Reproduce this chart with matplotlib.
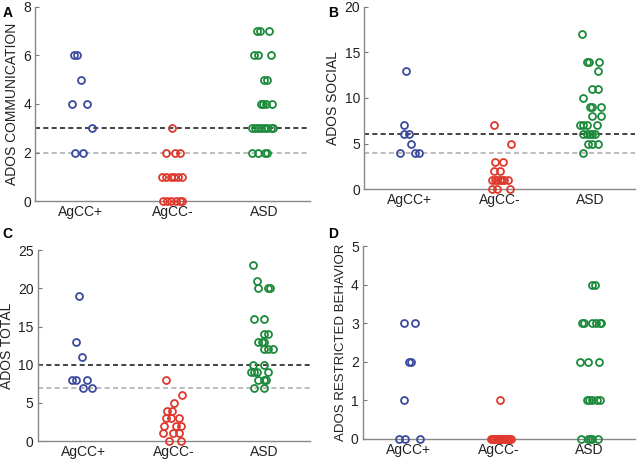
import matplotlib
matplotlib.use('Agg')
import matplotlib.pyplot as plt

plt.rcParams['font.family'] = ['Liberation Sans', 'DejaVu Sans']

groups = ['AgCC+', 'AgCC-', 'ASD']
colors = ['#3c4a9e', '#e0382c', '#1b8a3a']

# panel A - communication (x = jittered position, y = score)
a_x = [
    [0.92, 0.96, 1.00, 0.90, 1.07, 1.12, 0.93, 1.02],
    [2.00, 1.93, 2.03, 2.08, 1.89, 1.93, 1.98, 2.02, 2.06, 2.10, 1.90, 1.94, 1.98, 2.04, 2.08, 2.10],
    [2.92, 2.96, 3.05, 2.89, 2.93, 3.08, 3.00, 3.03, 2.97, 2.99, 3.02, 3.09,
     2.87, 2.90, 2.93, 2.97, 3.00, 3.03, 3.08, 3.10, 2.87, 2.93, 3.01, 3.03],
]
a_y = [
    [6, 6, 5, 4, 4, 3, 2, 2],
    [3, 2, 2, 2, 1, 1, 1, 1, 1, 1, 0, 0, 0, 0, 0, 0],
    [7, 7, 7, 6, 6, 6, 5, 5, 4, 4, 4, 4, 3, 3, 3, 3, 3, 3, 3, 3, 2, 2, 2, 2],
]

# panel B - social
b_x = [
    [0.96, 0.94, 0.94, 1.00, 1.02, 0.90, 1.06, 1.11],
    [1.94, 2.13, 1.95, 2.04, 1.94, 2.00, 1.92, 1.95, 1.97, 2.00, 2.03, 2.05, 2.09, 1.92, 1.97, 2.12],
    [2.91, 2.97, 2.99, 3.10, 3.09, 3.03, 3.09, 2.92, 3.00, 3.03, 3.13, 3.03, 3.13,
     2.89, 2.92, 2.97, 3.08, 2.92, 2.97, 3.00, 3.03, 3.06, 2.98, 3.03, 3.09, 2.93],
]
b_y = [
    [13, 7, 6, 6, 5, 4, 4, 4],
    [7, 5, 3, 3, 2, 2, 1, 1, 1, 1, 1, 1, 1, 0, 0, 0],
    [17, 14, 14, 14, 13, 11, 11, 10, 9, 9, 9, 8, 8, 7, 7, 7, 7, 6, 6, 6, 6, 6, 5, 5, 5, 4],
]

# panel C - total
c_x = [
    [0.95, 0.92, 0.99, 0.88, 0.92, 1.04, 1.00, 1.10],
    [1.91, 2.09, 2.00, 1.92, 1.98, 1.91, 1.97, 2.06, 1.89, 2.02, 2.08, 1.88, 1.99, 2.06, 1.95, 2.08],
    [2.87, 2.92, 2.93, 3.04, 3.06, 2.88, 2.99, 3.00, 3.04, 2.93, 2.97, 2.99, 3.00, 3.04, 3.09,
     2.87, 2.99, 2.85, 2.88, 2.92, 3.04, 2.93, 2.99, 3.02, 2.89, 3.00],
]
c_y = [
    [19, 13, 11, 8, 8, 8, 7, 7],
    [8, 6, 5, 4, 4, 3, 3, 3, 2, 2, 2, 1, 1, 1, 0, 0],
    [23, 21, 20, 20, 20, 16, 16, 14, 14, 13, 13, 13, 12, 12, 12, 10, 10, 9, 9, 9, 9, 8, 8, 8, 7, 7],
]

# panel D - restricted behavior
d_x = [
    [0.95, 1.08, 1.01, 1.03, 0.95, 0.90, 0.97, 1.13],
    [2.01, 1.91, 1.93, 1.95, 1.97, 1.99, 2.01, 2.03, 2.05, 2.07, 2.09, 2.11, 2.13, 1.94, 2.02, 2.10],
    [3.03, 3.06, 2.92, 2.94, 3.03, 3.07, 3.11, 3.13, 2.89, 2.98, 3.10,
     2.97, 2.99, 3.03, 3.08, 3.12, 2.91, 2.98, 3.01, 3.03, 3.09],
]
d_y = [
    [3, 3, 2, 2, 1, 0, 0, 0],
    [1, 0, 0, 0, 0, 0, 0, 0, 0, 0, 0, 0, 0, 0, 0, 0],
    [4, 4, 3, 3, 3, 3, 3, 3, 2, 2, 2, 1, 1, 1, 1, 1, 0, 0, 0, 0, 0],
]

ylabels = ['ADOS COMMUNICATION', 'ADOS SOCIAL', 'ADOS TOTAL', 'ADOS RESTRICTED BEHAVIOR']
ylabel_size = [10, 10, 10, 9.5]
letters = ['A', 'B', 'C', 'D']
ymax = [8, 20, 25, 5]
ystep = [2, 5, 5, 1]
cutoff_autism = [3, 6, 10, None]
cutoff_spectrum = [2, 4, 7, None]

fig = plt.figure(figsize=(6.4, 4.59), dpi=100)
boxes = [
    [0.055, 0.562, 0.429, 0.423],
    [0.569, 0.588, 0.423, 0.397],
    [0.059, 0.039, 0.425, 0.416],
    [0.567, 0.044, 0.425, 0.420],
]
letter_pos = [(0.004, 0.988), (0.512, 0.988), (0.004, 0.505), (0.512, 0.505)]
data = [(a_x, a_y), (b_x, b_y), (c_x, c_y), (d_x, d_y)]

for i in range(4):
    ax = fig.add_axes(boxes[i])
    xs, ys = data[i]
    if cutoff_autism[i] is not None:
        ax.axhline(cutoff_autism[i], color='#222222', ls=(0, (3, 2)), lw=1.2, zorder=1)
        ax.axhline(cutoff_spectrum[i], color='#b0b0b0', ls=(0, (3, 2)), lw=1.2, zorder=1)
    for g in range(3):
        ax.plot(xs[g], ys[g], 'o', ms=5, mfc='none', mec=colors[g], mew=1.3,
                ls='none', zorder=3, clip_on=False)
    ax.set_xlim(0.5, 3.5)
    ax.set_ylim(0, ymax[i])
    ax.set_yticks(range(0, ymax[i] + 1, ystep[i]))
    ax.set_xticks([1, 2, 3])
    ax.set_xticklabels(groups)
    ax.tick_params(axis='x', length=0, labelsize=10, pad=3, colors='#222222')
    ax.tick_params(axis='y', direction='in', length=3, labelsize=10, pad=3,
                   colors='#777777', labelcolor='#222222')
    for s in ['top', 'right']:
        ax.spines[s].set_visible(False)
    for s in ['left', 'bottom']:
        ax.spines[s].set_color('#888888')
        ax.spines[s].set_linewidth(1.0)
    ax.set_ylabel(ylabels[i], fontsize=ylabel_size[i], labelpad=3, color='#222222')
    fig.text(letter_pos[i][0], letter_pos[i][1], letters[i], fontsize=10,
             fontweight='bold', va='top', ha='left')

plt.savefig('out.png', dpi=100)
